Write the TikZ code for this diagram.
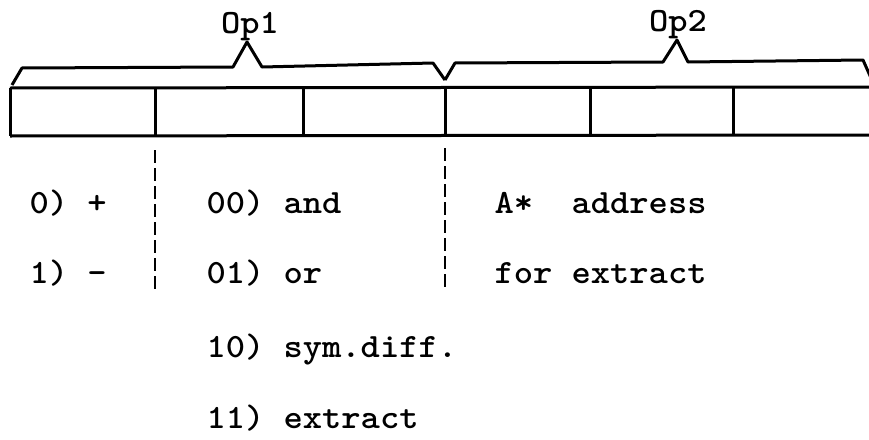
\documentclass[tikz,border=0pt]{standalone}
\usepackage{graphicx}
\newcommand{\typed}[1]{\scalebox{1.08}[1]{\fontsize{34}{38}\selectfont\ttfamily\bfseries #1}}
\begin{document}
\begin{tikzpicture}[x=1pt, y=-1pt, line width=3pt, line join=round,
                    txt/.style={anchor=base west, inner sep=0pt},
                    cut/.style={line width=2.2pt, dash pattern=on 13pt off 5pt}]
                \useasboundingbox (0, 0) rectangle (869, 439);

                 \draw(10, 88) to (869, 87);
                 \draw(10, 136) to (869, 135);
                 \draw(10, 88) to (10, 136);
                 \draw(155, 88) to (155, 136);
                 \draw(303, 88) to (303, 136);
                 \draw(445, 88) to (445, 136);
                 \draw(590, 88) to (590, 136);
                 \draw(733, 88) to (733, 136);

                    \draw(12, 85) -- (22, 68) -- (233, 67) -- (247, 42) -- (262, 67) -- (433, 63) -- (445, 80);
                        \node (op1) [anchor=base, inner sep=0pt] at (250, 33){\typed{Op1}};
                    \draw(445, 80) -- (455, 63) -- (663, 62) -- (677, 40) -- (688, 62) -- (863, 60) -- (871, 78);
                        \node (op2) [anchor=base, inner sep=0pt] at (678, 31){\typed{Op2}};

                     \draw[cut](155, 150) to (155, 292);
                     \draw[cut](445, 148) to (445, 290);

                        \node (plus) [txt] at (28, 213){\typed{0) +}};
                        \node (minus) [txt] at (28, 283){\typed{1) -}};
                        \node (and) [txt] at (205, 213){\typed{00) and}};
                        \node (or) [txt] at (205, 283){\typed{01) or}};
                        \node (symdiff) [txt] at (205, 357){\typed{10) sym.diff.}};
                        \node (extract) [txt] at (205, 428){\typed{11) extract}};
                        \node (astar) [txt] at (493, 213){\typed{A*~~address}};
                        \node (forext) [txt] at (493, 283){\typed{for extract}};

                \end{tikzpicture}
\end{document}
